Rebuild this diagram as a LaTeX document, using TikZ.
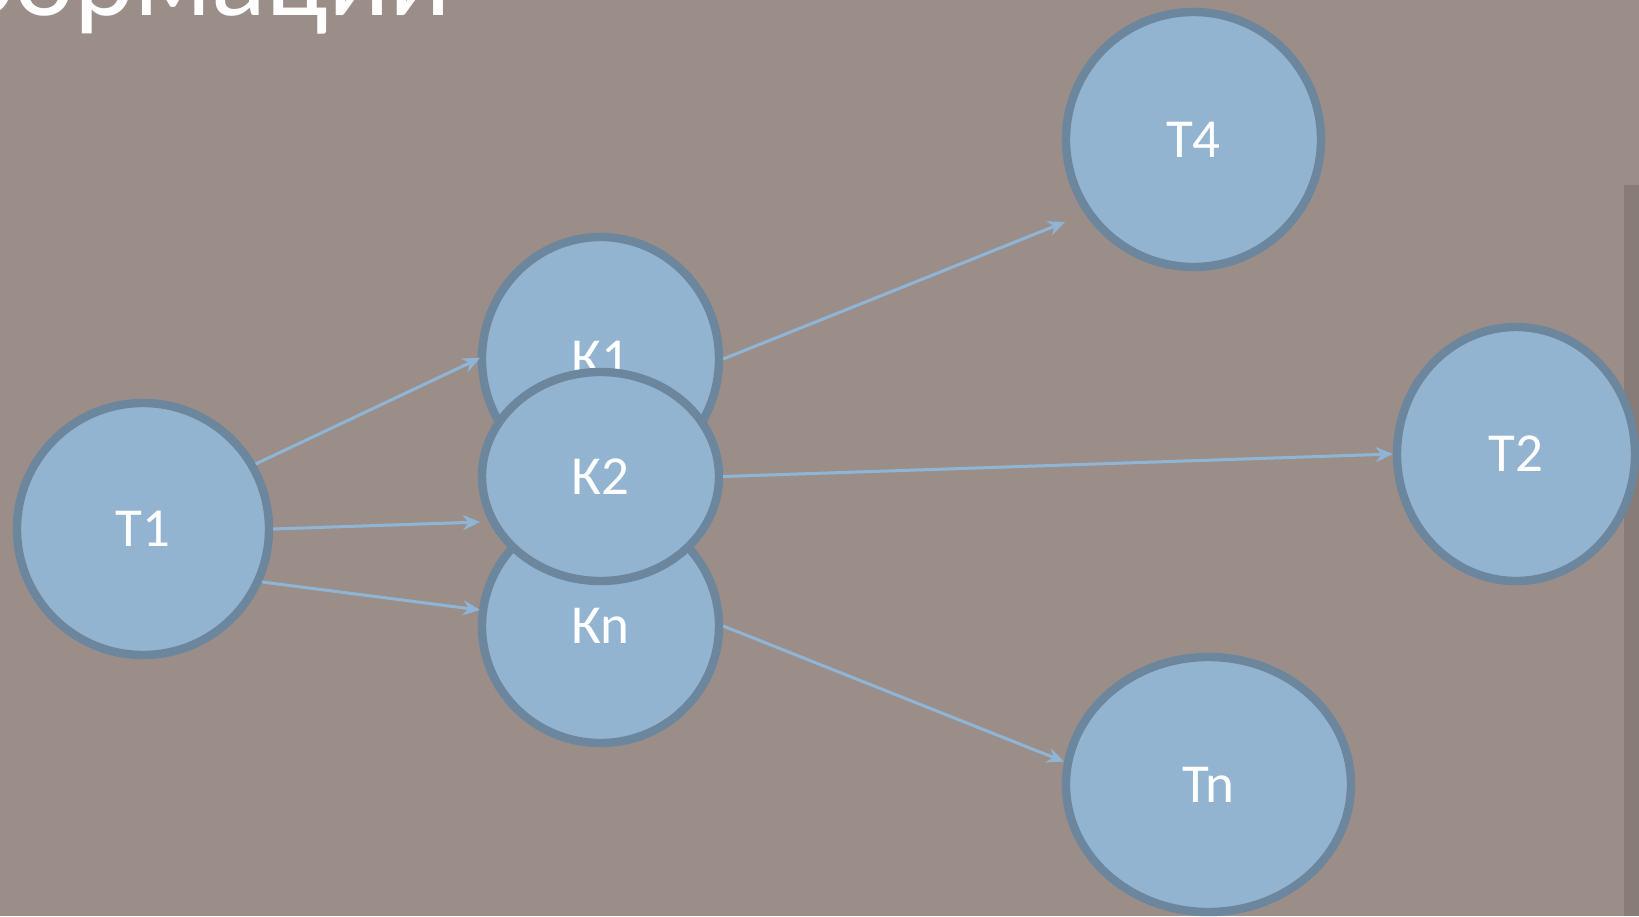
\documentclass[tikz,border=0pt]{standalone}
\usepackage{fontspec}
\setmainfont{Carlito}
\usetikzlibrary{arrows.meta,shapes.geometric,calc}
\definecolor{bgc}{HTML}{9B8E89}
\definecolor{ballc}{HTML}{93B4D1}
\definecolor{ringc}{HTML}{6B869D}
\definecolor{arrc}{HTML}{8FB5D6}
\begin{document}
\begin{tikzpicture}[x=0.5pt,y=-0.5pt,
  ball/.style={ellipse, draw=ringc, fill=ballc, line width=4.2pt, text=white,
    font=\fontsize{27.5}{33}\selectfont, inner sep=0pt},
  arr/.style={draw=arrc, line width=1.5pt, -{Stealth[length=8.5pt,width=7.5pt,inset=2.8pt]}}]
\useasboundingbox (0,0) rectangle (1639,916);
\fill[bgc] (0,0) rectangle (1639,916);
\fill[black!50!bgc, opacity=0.25] (1624,185) rectangle (1639,916);
\node[anchor=base east, text=white, font=\fontsize{57}{63}\selectfont, inner sep=0pt] (title) at (452,15) {формации};
% nodes
\node[ball, minimum width=126pt, minimum height=126pt] (T1) at (143,529) {T1};
\node[ball, minimum width=118.5pt, minimum height=122pt] (K1) at (600.5,359) {К1};
\node[ball, minimum width=118.5pt, minimum height=117pt] (Kn) at (600.5,626) {Кn};
\node[ball, minimum width=118.5pt, minimum height=104.5pt] (K2) at (600.5,476.5) {К2};
\node[ball, minimum width=127.5pt, minimum height=127.5pt] (T4) at (1193.5,139.5) {T4};
\node[ball, minimum width=119pt, minimum height=127pt] (T2) at (1516,454) {T2};
\node[ball, minimum width=142.5pt, minimum height=127.5pt] (Tn) at (1208.5,784.5) {Tn};
\coordinate (k1in) at (480,358);
\coordinate (k2in) at (480,522);
\coordinate (knin) at (480,610);
\coordinate (t4in) at (1065,222);
% connectors
\draw[arr] (T1.30) -- (k1in);
\draw[arr] (T1.east) -- (k2in);
\draw[arr] (T1.-24) -- (knin);
\draw[arr] (K1.east) -- (t4in);
\draw[arr] (K2.east) -- (T2.west);
\draw[arr] (Kn.east) -- (Tn.171);
\end{tikzpicture}
\end{document}
